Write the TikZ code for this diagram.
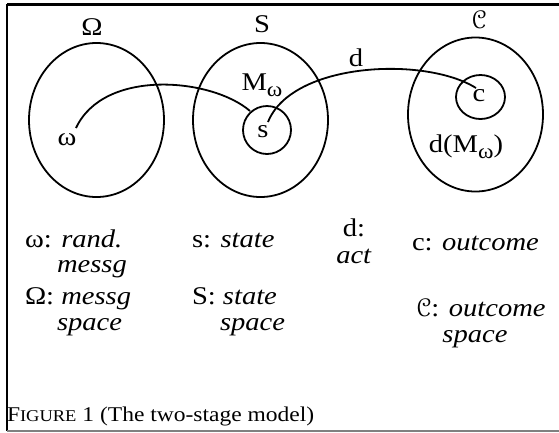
\documentclass[tikz,border=0pt]{standalone}
\usepackage{eucal}
\usepackage{fontspec}
\setmainfont{Liberation Serif}[FakeStretch=1.12]
\newcommand{\scC}{$\mathcal{C}$}
\newcommand{\subom}{\raisebox{-0.5ex}{\fontsize{21}{23}\selectfont ω}}
\begin{document}
\begin{tikzpicture}[x=1pt,y=-1pt,
  every node/.style={inner sep=0pt,outer sep=0pt,font=\fontsize{25.5}{29}\selectfont},
  setline/.style={line width=1.8pt},
  txt/.style={anchor=base west},
  ctxt/.style={anchor=base},
  curve/.style={line width=1.8pt}]
\useasboundingbox (0,0) rectangle (559,432);
% frame
\draw[line width=3pt] (7,4) -- (559,4);
\draw[line width=2.5pt] (7,4) -- (7,431);
\draw[line width=2pt, gray] (7,431) -- (559,431);
% sets
\draw[setline] (96.5,120) ellipse [x radius=67.5, y radius=77];
\draw[setline] (260.5,120) ellipse [x radius=67.5, y radius=77];
\draw[setline] (475.5,114.5) ellipse [x radius=67.5, y radius=77];
\draw[setline] (267,130) circle [radius=24];
\draw[setline] (480.5,97) ellipse [x radius=24.5, y radius=22];
% labels
\node (Om) at (92,27) {Ω};
\node (S) at (262,24) {S};
\node (C) at (479,20) {\scC};
\node (om) at (67,140) {ω};
\node (s) at (263,132) {s};
\node (c) at (479,96) {c};
\node (M) at (262,85) {M\subom};
\node (dM) at (466,147) {d(M\subom)};
\node (d) at (356,58) {d};
\coordinate (a0) at (76,128);
\coordinate (a1) at (250,111);
\coordinate (b0) at (268,122);
\coordinate (b1) at (476,88);
\draw[curve] (a0) .. controls (104,68) and (212,78) .. (a1);
\draw[curve] (b0) .. controls (292,62) and (425,56) .. (b1);
% legend
\node[txt] (l1) at (25,247) {ω: \textit{rand.}};
\node[txt] (l2) at (57,272) {\textit{messg}};
\node[txt] (l3) at (25,304) {Ω: \textit{messg}};
\node[txt] (l4) at (57,330) {\textit{space}};
\node[txt] (l5) at (192,247) {s: \textit{state}};
\node[txt] (l6) at (192,304) {S: \textit{state}};
\node[txt] (l7) at (220,330) {\textit{space}};
\node[ctxt] (l8) at (354,236) {d:};
\node[ctxt] (l9) at (354,263) {\textit{act}};
\node[txt] (l10) at (412,250) {c: \textit{outcome}};
\node[txt] (l11) at (416,316) {\scC: \textit{outcome}};
\node[ctxt] (l12) at (475,342) {\textit{space}};
\node[txt] (fig) at (7,421) {\fontsize{21}{24}\selectfont F{\fontsize{16.5}{20}\selectfont IGURE} 1 (The two-stage model)};
\end{tikzpicture}
\end{document}
